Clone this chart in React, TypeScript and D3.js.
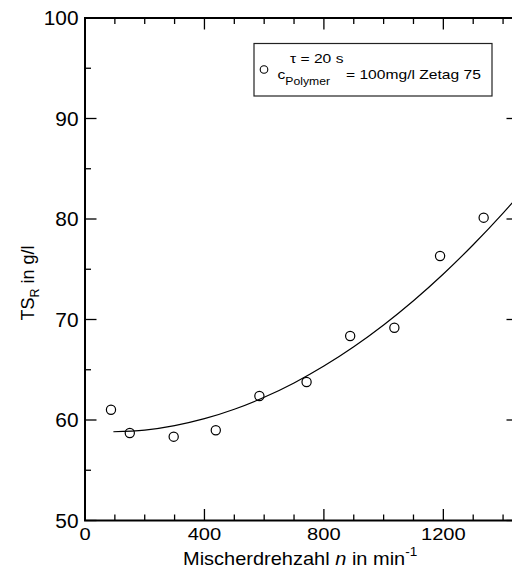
import React from "react";
import * as d3 from "d3";

// ---- data ----
const speedN = [87, 150, 297, 438, 584, 742, 888, 1036, 1189, 1335];
const tsR = [61.02, 58.71, 58.34, 58.98, 62.39, 63.78, 68.36, 69.18, 76.32, 80.13];

const fitN = [95, 200, 300, 400, 500, 600, 700, 800, 900, 1000, 1100, 1200, 1300, 1400, 1450];
const fitTS = [58.83, 58.99, 59.44, 60.13, 61.07, 62.26, 63.69, 65.37, 67.29, 69.46, 71.87, 74.53, 77.44, 80.59, 82.26];

const xMajorTicks = [0, 400, 800, 1200];
const yMajorTicks = [50, 60, 70, 80, 90, 100];
const xMinorStep = 100;
const yMinorStep = 5;

const W = 512;
const H = 579;
const FONT = "'Liberation Sans', Arial, Helvetica, sans-serif";

export default function App() {
  const x = d3.scaleLinear().domain([0, 1450]).range([85, 518]);
  const y = d3.scaleLinear().domain([50, 100]).range([520.5, 18]);
  const [x0, x1] = x.range();
  const [yb, yt] = y.range();

  const xMinor = d3.range(0, 1450 + 1, xMinorStep).filter((v) => !xMajorTicks.includes(v));
  const yMinor = d3.range(50, 100 + 0.01, yMinorStep).filter((v) => !yMajorTicks.includes(v));

  const line = d3
    .line<number>()
    .x((_, i) => x(fitN[i]))
    .y((d) => y(d))
    .curve(d3.curveMonotoneX);

  const MAJ = 11.5;
  const MIN = 6;

  return (
    <svg
      width={W}
      height={H}
      viewBox={`0 0 ${W} ${H}`}
      style={{ position: "absolute", left: 0, top: 0, display: "block", background: "#fff" }}
    >
      <rect x={0} y={0} width={W} height={H} fill="#fff" />
      <defs>
        <clipPath id="plotClip">
          <rect x={x0} y={yt} width={x1 - x0} height={yb - yt} />
        </clipPath>
      </defs>

      {/* ticks: bottom & top */}
      <g stroke="#000" strokeWidth={1.3}>
        {xMajorTicks.map((v) => (
          <g key={"xM" + v}>
            <line x1={x(v)} x2={x(v)} y1={yb} y2={yb - MAJ} />
            <line x1={x(v)} x2={x(v)} y1={yt} y2={yt + MAJ} />
          </g>
        ))}
        {xMinor.map((v) => (
          <g key={"xm" + v}>
            <line x1={x(v)} x2={x(v)} y1={yb} y2={yb - MIN} />
            <line x1={x(v)} x2={x(v)} y1={yt} y2={yt + MIN} />
          </g>
        ))}
        {yMajorTicks.map((v) => (
          <g key={"yM" + v}>
            <line x1={x0} x2={x0 + MAJ} y1={y(v)} y2={y(v)} />
            <line x1={x1} x2={x1 - MAJ} y1={y(v)} y2={y(v)} />
          </g>
        ))}
        {yMinor.map((v) => (
          <g key={"ym" + v}>
            <line x1={x0} x2={x0 + MIN} y1={y(v)} y2={y(v)} />
            <line x1={x1} x2={x1 - MIN} y1={y(v)} y2={y(v)} />
          </g>
        ))}
      </g>

      {/* frame */}
      <rect x={x0} y={yt} width={x1 - x0} height={yb - yt} fill="none" stroke="#000" strokeWidth={2} />

      {/* fitted curve */}
      <path d={line(fitTS) || ""} fill="none" stroke="#000" strokeWidth={1.2} clipPath="url(#plotClip)" />

      {/* data points */}
      {speedN.map((n, i) => (
        <circle key={"p" + i} cx={x(n)} cy={y(tsR[i])} r={4.6} fill="none" stroke="#000" strokeWidth={1.2} />
      ))}

      {/* x tick labels */}
      {xMajorTicks.map((v) => (
        <text
          key={"xl" + v}
          transform={`translate(${x(v)},540) scale(1.22,1)`}
          textAnchor="middle"
          fontFamily={FONT}
          fontSize={16.5}
          fill="#000"
        >
          {v}
        </text>
      ))}

      {/* y tick labels */}
      {yMajorTicks.map((v) => (
        <text
          key={"yl" + v}
          transform={`translate(78.5,${y(v) + 7}) scale(1.07,1)`}
          textAnchor="end"
          fontFamily={FONT}
          fontSize={19.5}
          fill="#000"
        >
          {v}
        </text>
      ))}

      {/* x axis title */}
      <text transform={`translate(183,564.5) scale(1.13,1)`} fontFamily={FONT} fontSize={17.7} fill="#000">
        Mischerdrehzahl <tspan fontStyle="italic">n</tspan> in min
        <tspan fontSize={12} dy={-9}>-1</tspan>
      </text>

      {/* y axis title */}
      <text
        transform={`translate(34,283) rotate(-90)`}
        textAnchor="middle"
        fontFamily={FONT}
        fontSize={18}
        fill="#000"
      >
        TS<tspan fontSize={12.5} dy={5}>R</tspan>
        <tspan dy={-5}> in g/l</tspan>
      </text>

      {/* legend */}
      <rect x={254} y={43.5} width={238} height={52.5} fill="#fff" stroke="#222" strokeWidth={1.2} />
      <circle cx={264} cy={69.5} r={3.8} fill="none" stroke="#000" strokeWidth={1.1} />
      <text transform={`translate(290,62.7) scale(1.22,1)`} fontFamily={FONT} fontSize={12.8} fill="#000">
        τ = 20 s
      </text>
      <text transform={`translate(277.5,79.3) scale(1.22,1)`} fontFamily={FONT} fontSize={12.8} fill="#000">
        c<tspan fontSize={10} dy={5.5}>Polymer</tspan>
      </text>
      <text transform={`translate(346,79.3) scale(1.22,1)`} fontFamily={FONT} fontSize={12.8} fill="#000">
        = 100mg/l Zetag 75
      </text>
    </svg>
  );
}
